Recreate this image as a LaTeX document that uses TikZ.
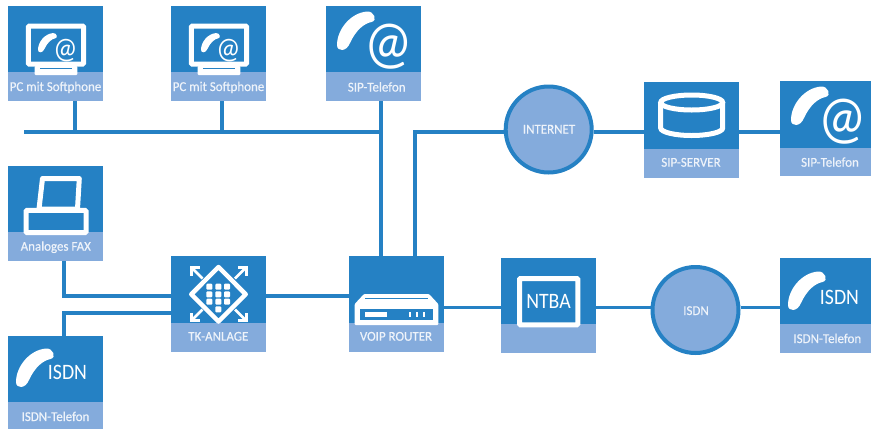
\documentclass[tikz,border=0pt]{standalone}
\usepackage{fontspec}
\setmainfont[FakeStretch=0.96,FakeBold=0.35]{Carlito}
\newfontfamily\iconfam[FakeStretch=0.9]{Carlito}
\definecolor{dblue}{HTML}{2581C4}
\definecolor{lblue}{HTML}{84ABDC}
\definecolor{ltext}{HTML}{EEF3FA}
\newcommand\fs[1]{\fontsize{#1}{#1}\selectfont}
% a device square: name, left, top, width, height, band top
\newcommand\devbox[6]{%
  \node[devsq,minimum width=#4pt,minimum height=#5pt] (#1) at ({#2+#4/2},{#3+#5/2}) {};
  \fill[lblue] (#2,#6) rectangle ({#2+#4},{#3+#5});
}
\newcommand\handset{%
  \fill[white] (11,39) .. controls (11,24) and (24,7) .. (41,5.5)
    .. controls (48,5) and (52,14.5) .. (45.5,16)
    .. controls (38,17.5) and (30,24) .. (24,37)
    .. controls (20.5,46) and (11,46) .. (11,39) -- cycle;
}
\newcommand\pcicon[1]{%
  \draw[wline,rounded corners=1pt] (20.3,20) rectangle (75.5,58.2);
  \fill[white,rounded corners=1pt] (26.7,60) rectangle (69.3,69);
  \fill[dblue] (32,61.7) rectangle (63.7,63);
  \begin{scope}[shift={(24.5,24.3)},scale=0.5]\handset\end{scope}
  \node[atsign,font=\iconfam\fs{30}] (#1) at (57.5,45) {@};
}
\tikzset{
  devsq/.style={rectangle,fill=dblue,draw=none,inner sep=0pt,outer sep=0pt},
  lab/.style={text=ltext,font=\fs{13.5},inner sep=0pt,outer sep=0pt,anchor=base},
  wline/.style={draw=white,line width=5pt},
  atsign/.style={text=white,inner sep=0pt,outer sep=0pt},
  conn/.style={draw=dblue,line width=3.8pt},
  cloudc/.style={circle,draw=dblue,fill=lblue,line width=4pt,minimum size=86pt,inner sep=0pt,outer sep=2pt},
}
\begin{document}
\begin{tikzpicture}[x=1pt,y=-1pt]
\useasboundingbox (0,0) rectangle (871,429);
% devices
\devbox{pca}{8}{6}{95}{95}{72}
\devbox{pcb}{171}{6}{95}{95}{72}
\devbox{sipa}{326}{6}{95}{95}{72}
\devbox{fax}{8}{166}{95}{95}{232}
\devbox{tk}{171}{256}{95}{96}{323}
\devbox{isdna}{8}{336}{95}{93}{402}
\devbox{router}{349}{256}{95}{96}{323}
\devbox{ntba}{501}{258}{95}{95}{324}
\devbox{server}{644}{82}{95}{96}{149}
\devbox{sipb}{780}{81}{91}{95}{148}
\devbox{isdnb}{780}{258}{91}{95}{324}
\node[cloudc] (inet) at (548.7,129.5) {};
\node[cloudc] (isdnc) at (695.5,310) {};
% connector way points
\coordinate (busl) at (24,131.7);
\coordinate (jpca) at (75.3,131.7);
\coordinate (jpcb) at (222.3,131.7);
\coordinate (jsip) at (381.3,131.7);
\coordinate (kinet) at (415,131.7);
\coordinate (kfax) at (63.7,295.7);
\coordinate (kisdn) at (63.7,313);
\coordinate (klow) at (470,307.4);
% connectors
\draw[conn] (busl) -- (jsip);
\draw[conn] (pca.south -| jpca) -- (jpca);
\draw[conn] (pcb.south -| jpcb) -- (jpcb);
\draw[conn] (sipa.south -| jsip) -- (router.north -| jsip);
\draw[conn] (router.north -| kinet) -- (kinet) -- (kinet -| inet.west);
\draw[conn] (inet.east |- kinet) -- (kinet -| server.west);
\draw[conn] (kinet -| server.east) -- (kinet -| sipb.west);
\draw[conn] (fax.south -| kfax) -- (kfax) -- (kfax -| tk.west);
\draw[conn] (isdna.north -| kisdn) -- (kisdn) -- (kisdn -| tk.west);
\draw[conn] (kfax -| tk.east) -- (kfax -| router.west);
\draw[conn] (klow -| router.east) -- (klow -| ntba.west);
\draw[conn] (klow -| ntba.east) -- (klow -| isdnc.west);
\draw[conn] (klow -| isdnc.east) -- (klow -| isdnb.west);
% icons
\begin{scope}[shift={(8,6)}]\pcicon{ata}\end{scope}
\begin{scope}[shift={(171,6)}]\pcicon{atb}\end{scope}
\begin{scope}[shift={(326,6)}]\handset\node[atsign,font=\iconfam\fs{60}] (atc) at (63,40.5) {@};\end{scope}
\begin{scope}[shift={(780,81)}]\handset\node[atsign,font=\iconfam\fs{60}] (atd) at (63,40.5) {@};\end{scope}
\begin{scope}[shift={(8,336)}]\begin{scope}[shift={(-3,7)}]\handset\end{scope}\node[atsign,font=\iconfam\fs{22}] (isa) at (59.5,36) {ISDN};\end{scope}
\begin{scope}[shift={(780,258)}]\begin{scope}[shift={(-3,8)}]\handset\end{scope}\node[atsign,font=\iconfam\fs{22}] (isb) at (59.5,39) {ISDN};\end{scope}
% fax
\begin{scope}[shift={(8,166)}]
  \draw[wline,line width=5pt,line join=round] (34.5,12.5) -- (71.3,12.5) -- (69.5,43) -- (31,43) -- cycle;
  \draw[wline,rounded corners=1pt] (18,44.3) rectangle (78,66.5);
\end{scope}
% TK-Anlage
\begin{scope}[shift={(171,256)}]
  \draw[wline,line width=4.5pt,line join=round] (47.5,11) -- (74.7,38.3) -- (47.5,65.5) -- (20.3,38.3) -- cycle;
  \foreach \cx in {38.3,47.3,56} \foreach \cy in {30.7,38.3,45.7}
    \fill[white,rounded corners=1pt] (\cx-3,\cy-3) rectangle (\cx+3,\cy+3);
  \fill[white,rounded corners=1pt] (44.3,50.3) rectangle (50.3,56.3);
  \foreach \px/\py/\sx/\sy in {19.5/10.5/1/1,76/10.5/-1/1,19.5/65.5/1/-1,76/65.5/-1/-1} {
    \draw[white,line width=3pt] (\px+\sx*9,\py+\sy*1) -- (\px+\sx*1,\py+\sy*1) -- (\px+\sx*1,\py+\sy*9);
    \draw[white,line width=2.5pt] (\px+\sx*1,\py+\sy*1) -- (\px+\sx*12,\py+\sy*12);
  }
\end{scope}
% router
\begin{scope}[shift={(349,256)}]
  \fill[white,rounded corners=1pt] (5.7,48) -- (15,38) -- (80,38) -- (89.3,48) -- (89.3,69) -- (5.7,69) -- cycle;
  \draw[dblue,line width=1pt] (16,42) -- (79.3,42);
  \fill[dblue] (11,53) rectangle (84.3,64);
  \fill[white] (16,55.7) rectangle (38.3,60.7);
  \foreach \dx in {60.7,67.7,74.7} \fill[white] (\dx-1,55.7) rectangle (\dx+1,60.7);
\end{scope}
% NTBA
\begin{scope}[shift={(501,258)}]
  \draw[wline,rounded corners=1pt] (18.5,20.5) rectangle (76.8,66.8);
  \node[atsign,font=\iconfam\fs{22}] (ntext) at (47.5,43) {NTBA};
\end{scope}
% server
\begin{scope}[shift={(644,82)}]
  \draw[wline] (16.7,20.5) -- (16.7,46) arc[start angle=180,end angle=0,x radius=31,y radius=7.5] -- (78.7,20.5);
  \draw[wline] (47.7,20.5) ellipse[x radius=31,y radius=7.5];
\end{scope}
% labels
\node[lab] (lpca) at (55.5,91) {PC mit Softphone};
\node[lab] (lpcb) at (218.5,91) {PC mit Softphone};
\node[lab] (lsipa) at (376.7,91.5) {SIP-Telefon};
\node[lab] (lfax) at (55.8,250.7) {Analoges FAX};
\node[lab] (lisdna) at (55.5,421) {ISDN-Telefon};
\node[lab] (ltk) at (218.3,340.7) {TK-ANLAGE};
\node[lab] (lrouter) at (396,340.7) {VOIP ROUTER};
\node[lab] (lserver) at (691,166.7) {SIP-SERVER};
\node[lab] (lsipb) at (830,166.7) {SIP-Telefon};
\node[lab] (lisdnb) at (827.3,343) {ISDN-Telefon};
\node[lab] (linet) at (549,133.5) {INTERNET};
\node[lab] (lisdnc) at (696,315) {ISDN};
\end{tikzpicture}
\end{document}
